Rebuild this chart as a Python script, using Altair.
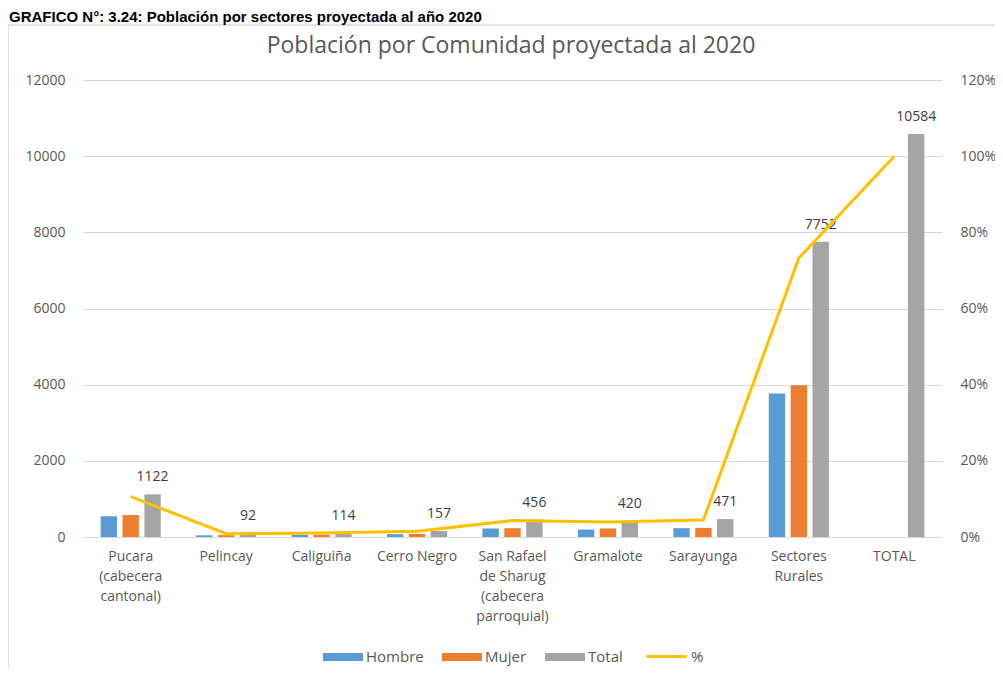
import altair as alt
import pandas as pd

header = "GRAFICO N°: 3.24: Población por sectores proyectada al año 2020"
title = "Población por Comunidad proyectada al 2020"

categories = [
    "Pucara|(cabecera|cantonal)", "Pelincay", "Caliguiña", "Cerro Negro",
    "San Rafael|de Sharug|(cabecera|parroquial)", "Gramalote", "Sarayunga",
    "Sectores|Rurales", "TOTAL",
]
series = ["Hombre", "Mujer", "Total"]
hombre = [545, 44, 55, 75, 224, 196, 232, 3770, None]
mujer = [577, 48, 59, 82, 232, 224, 239, 3982, None]
total = [1122, 92, 114, 157, 456, 420, 471, 7752, 10584]
pct = [10.6, 0.87, 1.08, 1.48, 4.31, 3.97, 4.45, 73.24, 100.0]

bar_colors = ["#5B9BD5", "#ED7D31", "#A5A5A5"]
line_color = "#FFC000"

rows = []
for i, c in enumerate(categories):
    for s, vals in zip(series, [hombre, mujer, total]):
        if vals[i] is not None:
            rows.append({"cat": c, "serie": s, "value": vals[i]})
bars_df = pd.DataFrame(rows)
tot_df = bars_df[bars_df["serie"] == "Total"]
line_df = pd.DataFrame({"cat": categories, "pct": pct, "serie": ["%"] * len(categories)})

FONT = "Open Sans"
GREY = "#595959"

x_enc = alt.X(
    "cat:N", sort=categories, title=None,
    scale=alt.Scale(paddingInner=0.37, paddingOuter=0.185),
    axis=alt.Axis(
        labelExpr="split(datum.label, '|')", labelAngle=0, labelFont=FONT,
        labelFontSize=14, labelColor=GREY, labelLineHeight=20, labelPadding=12,
        labelBaseline="top", ticks=False, domain=False, labelLimit=200,
    ),
)
xoff = alt.XOffset("serie:N", sort=series,
                   scale=alt.Scale(domain=series, paddingInner=0.25, paddingOuter=0))

bar_legend = alt.Legend(
    orient="none", legendX=240, legendY=557, direction="horizontal", title=None,
    symbolType="M-1,-0.2L1,-0.2L1,0.2L-1,0.2Z", symbolSize=1600,
    symbolStrokeWidth=0, symbolOpacity=1, labelFont=FONT, labelFontSize=15,
    labelColor=GREY, columnPadding=18, labelOffset=3,
)
line_legend = alt.Legend(
    orient="none", legendX=562, legendY=555, direction="horizontal", title=None,
    symbolType="stroke", symbolSize=1600, symbolStrokeWidth=3, symbolOpacity=1,
    labelFont=FONT, labelFontSize=15, labelColor=GREY, labelOffset=3,
)

yscale = alt.Scale(domain=[0, 12000], nice=False)
left_axis = alt.Axis(values=[0, 2000, 4000, 6000, 8000, 10000, 12000],
                     format="d", grid=True, gridColor="#d9d9d9",
                     domain=False, ticks=False,
                     labelFont=FONT, labelFontSize=14, labelColor=GREY,
                     labelPadding=18)

bars = alt.Chart(bars_df).mark_bar().encode(
    x=x_enc, xOffset=xoff,
    y=alt.Y("value:Q", title=None, scale=yscale, axis=left_axis),
    color=alt.Color("serie:N", scale=alt.Scale(domain=series, range=bar_colors),
                    legend=bar_legend),
)
labels = alt.Chart(tot_df).mark_text(
    baseline="bottom", dy=-10, font=FONT, fontSize=14, color="#404040"
).encode(x=x_enc, xOffset=xoff,
         y=alt.Y("value:Q", title=None, scale=yscale, axis=left_axis),
         text="value:Q")

bar_layer = alt.layer(bars, labels)

line = alt.Chart(line_df).mark_line(strokeWidth=3).encode(
    x=x_enc,
    y=alt.Y("pct:Q", title=None, scale=alt.Scale(domain=[0, 120], nice=False),
            axis=alt.Axis(orient="right", values=[0, 20, 40, 60, 80, 100, 120],
                          labelExpr="datum.value + '%'", grid=False, domain=False,
                          ticks=False, labelFont=FONT, labelFontSize=14,
                          labelColor=GREY, labelPadding=18)),
    color=alt.Color("serie:N", scale=alt.Scale(domain=["%"], range=[line_color]),
                    legend=line_legend),
)

deco_df = pd.DataFrame({"t": [header]})
border = alt.Chart(deco_df).mark_rect(
    fill="white", fillOpacity=0, stroke="#d9d9d9", strokeWidth=1.5
).encode(x=alt.value(-75), x2=alt.value(930), y=alt.value(-55), y2=alt.value(600))
head = alt.Chart(deco_df).mark_text(
    align="left", baseline="alphabetic", font="Liberation Sans", fontWeight="bold",
    fontSize=15, color="#000000"
).encode(text="t:N", x=alt.value(-74), y=alt.value(-58))
ttl = alt.Chart(pd.DataFrame({"t": [title]})).mark_text(
    align="center", baseline="middle", font=FONT, fontSize=23, color=GREY
).encode(text="t:N", x=alt.value(428), y=alt.value(-34))

chart = alt.layer(border, bar_layer, line, head, ttl).resolve_scale(
    y="independent", color="independent"
).properties(
    width=859, height=457,
    autosize=alt.AutoSizeParams(type="none"),
    padding={"left": 75, "top": 72, "right": 53, "bottom": 132},
).configure_view(stroke=None)

chart.save("out.html", embed_options={"renderer": "svg", "actions": False})
